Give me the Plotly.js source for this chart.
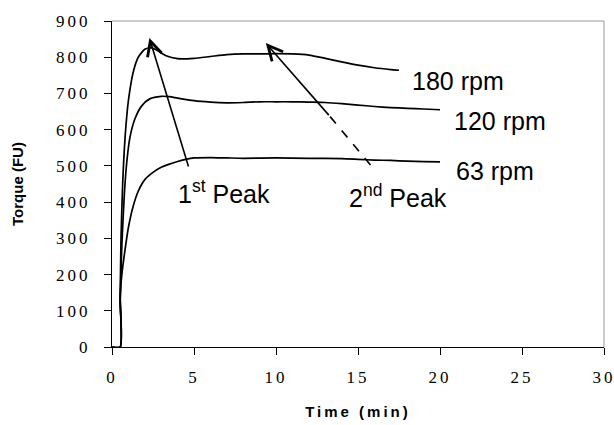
<!DOCTYPE html>
<html>
<head>
<meta charset="utf-8">
<script src="https://cdn.plot.ly/plotly-3.0.1.min.js"></script>
<style>
  html, body { margin: 0; padding: 0; background: #fff; }
  #chart { width: 614px; height: 425px; }
  .xtick text, .ytick text { letter-spacing: 3px; }
  .g-xtitle text { letter-spacing: 3px; }
</style>
</head>
<body>
<div id="chart"></div>
<script>
// Time (min) and torque (FU) for each mixing speed
const time180   = [0, 0.5, 0.5, 0.55, 0.65, 0.8, 1.0, 1.3, 1.6, 2.0, 2.4, 2.8, 3.3, 4.0, 5.0, 6.0, 7.0, 8.0, 9.0, 10.0, 11.0, 12.0, 13.0, 14.0, 15.0, 16.0, 17.0, 17.5];
const torque180 = [0, 0, 130, 300, 450, 580, 680, 760, 800, 822, 826, 818, 804, 796, 797, 802, 807, 809, 809, 810, 809, 806, 797, 787, 778, 771, 766, 764];

const time120   = [0, 0.5, 0.5, 0.6, 0.75, 0.9, 1.1, 1.4, 1.8, 2.3, 3.0, 3.5, 4.0, 5.0, 6.0, 7.0, 8.0, 9.0, 10.0, 11.0, 12.0, 13.0, 14.0, 15.0, 16.0, 17.0, 18.0, 19.0, 20.0];
const torque120 = [0, 0, 130, 280, 420, 510, 580, 630, 665, 685, 692, 691, 687, 680, 676, 674, 675, 677, 677, 677, 676, 675, 672, 668, 664, 661, 659, 657, 655];

const time63    = [0, 0.5, 0.5, 0.6, 0.8, 1.0, 1.3, 1.6, 2.0, 2.5, 3.0, 3.5, 4.0, 4.5, 5.0, 6.0, 7.0, 8.0, 10.0, 12.0, 14.0, 15.0, 16.0, 17.0, 18.0, 19.0, 20.0];
const torque63  = [0, 0, 140, 200, 270, 330, 390, 430, 462, 482, 496, 505, 512, 518, 522, 523, 522, 521, 522, 521, 520, 518, 516, 515, 513, 512, 511];

const seriesNames = ['180 rpm', '120 rpm', '63 rpm'];
const xTickVals = [0, 5, 10, 15, 20, 25, 30];
const yTickVals = [0, 100, 200, 300, 400, 500, 600, 700, 800, 900];

const lineStyle = {color: '#000', width: 1.7, shape: 'spline', smoothing: 0.6};
const traces = [
  {x: time180, y: torque180, name: seriesNames[0], mode: 'lines', line: lineStyle},
  {x: time120, y: torque120, name: seriesNames[1], mode: 'lines', line: lineStyle},
  {x: time63,  y: torque63,  name: seriesNames[2], mode: 'lines', line: lineStyle}
];

const serifStack = 'Liberation Serif, DejaVu Serif, Times New Roman, Times, serif';
const labelFont = {family: 'Liberation Sans', size: 25, color: '#000'};
const tickFont = {family: serifStack, size: 17, color: '#000'};

const layout = {
  width: 614, height: 425,
  margin: {l: 112, r: 10, t: 21, b: 78},
  paper_bgcolor: '#fff', plot_bgcolor: '#fff',
  showlegend: false,
  font: {family: 'Liberation Sans', color: '#000'},
  xaxis: {
    range: [0, 30], tickvals: xTickVals, ticks: 'outside', ticklen: 7, tickcolor: '#000',
    showline: true, linecolor: '#000', linewidth: 1, showgrid: false, zeroline: false,
    tickfont: tickFont, ticklabelstandoff: 8, ticklabeloverflow: 'allow',
    title: {text: 'Time (min)', font: {family: 'Liberation Sans', size: 15, color: '#000', weight: 'bold'}, standoff: 20}
  },
  yaxis: {
    range: [0, 900], tickvals: yTickVals, ticks: 'outside', ticklen: 7, tickcolor: '#000',
    showline: true, linecolor: '#000', linewidth: 1, showgrid: false, zeroline: false,
    tickfont: tickFont, ticklabelstandoff: 10, ticklabeloverflow: 'allow',
    title: {text: 'Torque (FU)', font: {family: 'Liberation Sans', size: 15, color: '#000', weight: 'bold'}, standoff: 28}
  },
  shapes: [
    {type: 'line', xref: 'paper', yref: 'paper', x0: 0, x1: 1, y0: 1, y1: 1, line: {color: '#999', width: 1}},
    {type: 'line', xref: 'paper', yref: 'paper', x0: 1, x1: 1, y0: 0, y1: 1, line: {color: '#999', width: 1}},
    {type: 'line', xref: 'x', yref: 'y', x0: 13.3, y0: 636, x1: 16.1, y1: 484, line: {color: '#000', width: 1.6, dash: 'dash'}}
  ],
  annotations: [
    {x: 2.28, y: 853, ax: 4.69, ay: 494, xref: 'x', yref: 'y', axref: 'x', ayref: 'y',
     showarrow: true, arrowhead: 5, arrowsize: 1.8, arrowwidth: 1.6, arrowcolor: '#000', text: '', standoff: 0},
    {x: 9.38, y: 839, ax: 13.3, ay: 636, xref: 'x', yref: 'y', axref: 'x', ayref: 'y',
     showarrow: true, arrowhead: 5, arrowsize: 1.8, arrowwidth: 1.6, arrowcolor: '#000', text: '', standoff: 0},
    {x: 6.83, y: 428, xref: 'x', yref: 'y', text: '1<sup>st</sup> Peak', showarrow: false, font: labelFont},
    {x: 17.43, y: 417, xref: 'x', yref: 'y', text: '2<sup>nd</sup> Peak', showarrow: false, font: labelFont},
    {x: 21.1, y: 733, xref: 'x', yref: 'y', text: seriesNames[0], showarrow: false, font: labelFont},
    {x: 23.64, y: 624, xref: 'x', yref: 'y', text: seriesNames[1], showarrow: false, font: labelFont},
    {x: 23.37, y: 485, xref: 'x', yref: 'y', text: seriesNames[2], showarrow: false, font: labelFont}
  ]
};

Plotly.newPlot('chart', traces, layout, {staticPlot: true, displayModeBar: false}).then(function (gd) {
  gd.querySelectorAll('.xtick text, .ytick text').forEach(function (t) {
    t.style.fontFamily = '"Liberation Serif", "DejaVu Serif", serif';
  });
});
</script>
</body>
</html>
